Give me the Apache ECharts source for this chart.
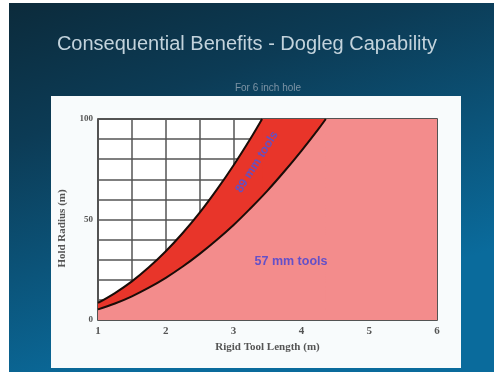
<!DOCTYPE html>
<html>
<head>
<meta charset="utf-8">
<style>
  html, body { margin: 0; padding: 0; background: #ffffff; }
  #chart { width: 494px; height: 372px; }
</style>
<script src="https://cdn.jsdelivr.net/npm/echarts@6/dist/echarts.min.js"></script>
</head>
<body>
<div id="chart"></div>
<script>
// Hold radius needed versus rigid tool length, 6 inch hole
const titleText = 'Consequential Benefits - Dogleg Capability';
const subtitleText = 'For 6 inch hole';
const xAxisName = 'Rigid Tool Length (m)';
const yAxisName = 'Hold Radius (m)';

// upper boundary (larger tools), up to the top of the scale
const upperX = [1, 1.25, 1.5, 1.75, 2, 2.25, 2.5, 2.75, 3, 3.25, 3.42];
const upperY = [8.5, 13.4, 19.2, 26.2, 34.2, 43.3, 53.4, 64.7, 77, 90.3, 100];

// lower boundary (57 mm tools), up to the top of the scale
const lowerX = [1, 1.25, 1.5, 1.75, 2, 2.25, 2.5, 2.75, 3, 3.25, 3.5, 3.75, 4, 4.25, 4.36];
const lowerY = [5.3, 8.2, 11.8, 16.1, 21, 26.6, 32.9, 39.8, 47.3, 55.6, 64.4, 74, 84.2, 95, 100];

const bandLabel = '89 mm tools';
const baseLabel = '57 mm tools';

const xMin = 1, xMax = 6, yMin = 0, yMax = 100;
const xTicks = [1, 2, 3, 4, 5, 6];
const yTicks = [0, 50, 100];

const pairs = (xs, ys) => xs.map((x, i) => [x, ys[i]]);
// region beyond where a boundary leaves the top of the scale;
// starts a hair early so the two fills overlap without a seam
const capped = xs => [[xs[xs.length - 1] - 0.012, yMax], [xMax, yMax]];

const RED = '#e8352a';
const PINK = '#f38c8c';
const INK = '#1a0c08';

const chart = echarts.init(document.getElementById('chart'), null, { renderer: 'canvas' });

const option = {
  animation: false,
  backgroundColor: {
    type: 'linear', x: 0, y: 0, x2: 0.25, y2: 1,
    colorStops: [
      { offset: 0, color: '#0c2a3a' },
      { offset: 0.35, color: '#0c3b55' },
      { offset: 1, color: '#0a6b9c' }
    ]
  },
  graphic: [
    { type: 'rect', z: -10, shape: { x: 0, y: 0, width: 9, height: 372 }, style: { fill: '#ffffff' } },
    { type: 'rect', z: -10, shape: { x: 0, y: 0, width: 494, height: 3 }, style: { fill: '#ffffff' } },
    { type: 'rect', z: -10, shape: { x: 51, y: 96, width: 410, height: 272 }, style: { fill: '#f8fbfc' } },
    {
      type: 'text', left: 'center', top: 34,
      style: { text: titleText, fill: '#c3d3dc', font: '20px "Liberation Sans", Arial, sans-serif' }
    },
    {
      type: 'text', x: 268, y: 88,
      style: { text: subtitleText, fill: '#7c93a4', font: '10px "Liberation Sans", Arial, sans-serif', align: 'center', verticalAlign: 'middle' }
    },
    {
      type: 'text', x: 257, y: 162, rotation: 58 * Math.PI / 180, z: 100,
      style: { text: bandLabel, fill: '#6450c0', font: 'bold 12px "Liberation Sans", Arial, sans-serif', align: 'center', verticalAlign: 'middle' }
    },
    {
      type: 'text', x: 291, y: 262, z: 100,
      style: { text: baseLabel, fill: '#6450c8', font: 'bold 12.5px "Liberation Sans", Arial, sans-serif', align: 'center', verticalAlign: 'middle' }
    }
  ],
  grid: { left: 98, right: 57, top: 119, bottom: 52, show: true, backgroundColor: '#ffffff', borderColor: '#1a1a1a', borderWidth: 1.5, z: 0 },
  xAxis: {
    type: 'value', min: xMin, max: xMax, interval: 0.5,
    name: xAxisName, nameLocation: 'middle', nameGap: 20,
    nameTextStyle: { color: '#555', fontFamily: '"Liberation Serif", serif', fontWeight: 'bold', fontSize: 11 },
    axisLine: { show: false },
    axisTick: { show: false },
    axisLabel: {
      color: '#555', fontFamily: '"Liberation Serif", serif', fontWeight: 'bold', fontSize: 11, margin: 6,
      formatter: v => (xTicks.indexOf(v) >= 0 ? String(v) : '')
    },
    splitLine: { show: true, lineStyle: { color: '#555', width: 1.5 } }
  },
  yAxis: {
    type: 'value', min: yMin, max: yMax, interval: 10,
    name: yAxisName, nameLocation: 'middle', nameGap: 30, nameRotate: 90,
    nameTextStyle: { color: '#555', fontFamily: '"Liberation Serif", serif', fontWeight: 'bold', fontSize: 11, padding: [0, 0, 0, -18] },
    axisLine: { show: false },
    axisTick: { show: false },
    axisLabel: {
      color: '#555', fontFamily: '"Liberation Serif", serif', fontWeight: 'bold', fontSize: 9, margin: 5,
      formatter: v => (yTicks.indexOf(v) >= 0 ? String(v) : '')
    },
    splitLine: { show: true, lineStyle: { color: '#555', width: 1.5 } }
  },
  series: [
    {
      type: 'line', data: capped(upperX), symbol: 'none',
      lineStyle: { width: 0 }, areaStyle: { color: RED, opacity: 1, origin: 'start' }, z: 2
    },
    {
      type: 'line', data: pairs(upperX, upperY), smooth: 0.4, symbol: 'none',
      lineStyle: { color: INK, width: 2 },
      areaStyle: { color: RED, opacity: 1, origin: 'start' }, z: 2
    },
    {
      type: 'line', data: capped(lowerX), symbol: 'none',
      lineStyle: { width: 0 }, areaStyle: { color: PINK, opacity: 1, origin: 'start' }, z: 3
    },
    {
      type: 'line', data: pairs(lowerX, lowerY), smooth: 0.4, symbol: 'none',
      lineStyle: { color: INK, width: 2 },
      areaStyle: { color: PINK, opacity: 1, origin: 'start' }, z: 3
    }
  ]
};

chart.setOption(option);
</script>
</body>
</html>
